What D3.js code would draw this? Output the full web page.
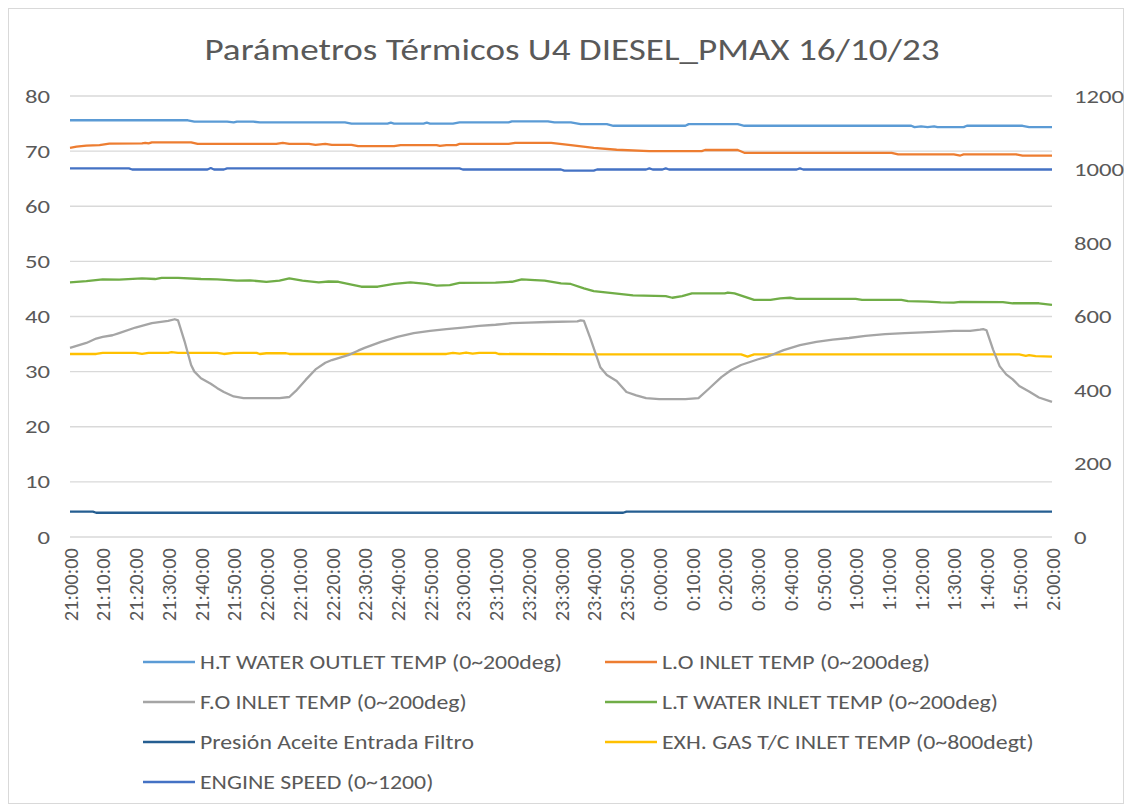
<!DOCTYPE html>
<html>
<head>
<meta charset="utf-8">
<script src="https://cdn.jsdelivr.net/npm/d3@7"></script>
<style>
  body { margin: 0; background: #fff; }
  text { font-family: Calibri, Carlito, "Open Sans", sans-serif; fill: #595959; }
</style>
</head>
<body>
<div id="chart"></div>
<script>
const w = 1132;
const h = 805;

// x labels, one every 10 minutes from 21:00 to 2:00
const tickLabels = [
  "21:00:00", "21:10:00", "21:20:00", "21:30:00", "21:40:00", "21:50:00",
  "22:00:00", "22:10:00", "22:20:00", "22:30:00", "22:40:00", "22:50:00",
  "23:00:00", "23:10:00", "23:20:00", "23:30:00", "23:40:00", "23:50:00",
  "0:00:00", "0:10:00", "0:20:00", "0:30:00", "0:40:00", "0:50:00",
  "1:00:00", "1:10:00", "1:20:00", "1:30:00", "1:40:00", "1:50:00", "2:00:00"
];
const leftTicks = [0, 10, 20, 30, 40, 50, 60, 70, 80];
const rightTicks = [0, 200, 400, 600, 800, 1000, 1200];

// [minutes after 21:00, value]
const htWater = [[0,75.6],[36,75.6],[38,75.35],[48,75.35],[50,75.2],[51,75.35],[56,75.35],[58,75.2],[84,75.2],[86,75.0],[97,75.0],[98,75.15],[99,75.0],[108,75.0],[109,75.15],[110,75.0],[117,75.0],[119,75.2],[134,75.2],[135,75.4],[146,75.4],[148,75.2],[153,75.2],[156,74.9],[164,74.9],[166,74.6],[188,74.6],[189,74.9],[204,74.9],[206,74.6],[257,74.6],[258,74.35],[260,74.5],[262,74.35],[264,74.5],[265,74.35],[273,74.35],[274,74.6],[291,74.6],[293,74.35],[300,74.35]];
const loInlet = [[0,70.6],[2,70.8],[5,71.0],[9,71.1],[12,71.35],[22,71.4],[23,71.5],[24,71.4],[25,71.6],[37,71.6],[39,71.3],[63,71.3],[65,71.5],[67,71.3],[73,71.3],[75,71.15],[78,71.3],[80,71.15],[86,71.15],[88,70.9],[99,70.9],[101,71.1],[112,71.1],[113,70.95],[115,71.1],[118,71.1],[119,71.3],[134,71.3],[136,71.5],[147,71.5],[153,71.1],[160,70.6],[167,70.25],[177,70.0],[193,70.0],[194,70.2],[204,70.2],[206,69.7],[251,69.7],[253,69.4],[270,69.4],[272,69.2],[273,69.4],[289,69.4],[291,69.2],[300,69.2]];
const foInlet = [[0,34.3],[5,35.2],[8,36.0],[10,36.3],[13,36.6],[15,37.0],[20,38.0],[25,38.8],[30,39.2],[32,39.5],[33,39.3],[35,35.5],[37,31.2],[38,30.0],[40,28.8],[43,27.8],[45,27.0],[47,26.3],[50,25.5],[53,25.2],[64,25.2],[67,25.4],[69,26.5],[72,28.5],[75,30.4],[78,31.6],[80,32.1],[85,33.0],[88,33.8],[90,34.3],[95,35.4],[100,36.3],[105,37.0],[110,37.4],[115,37.7],[120,38.0],[125,38.3],[130,38.5],[135,38.8],[140,38.9],[146,39.0],[155,39.1],[156,39.3],[157,39.2],[159,36.0],[162,30.8],[164,29.4],[167,28.3],[170,26.3],[173,25.7],[176,25.2],[180,25.0],[188,25.0],[192,25.2],[195,26.8],[199,29.0],[202,30.3],[205,31.2],[210,32.2],[213,32.7],[218,33.9],[223,34.8],[228,35.4],[233,35.8],[238,36.1],[243,36.5],[249,36.8],[255,37.0],[264,37.2],[270,37.4],[275,37.4],[278,37.6],[279,37.7],[280,37.5],[282,34.0],[284,31.0],[286,29.5],[288,28.6],[290,27.4],[293,26.4],[296,25.3],[300,24.5]];
const ltWater = [[0,46.2],[5,46.4],[10,46.75],[15,46.7],[22,46.9],[26,46.8],[28,47.0],[33,47.0],[40,46.8],[45,46.75],[51,46.5],[55,46.55],[60,46.3],[64,46.5],[67,46.9],[71,46.5],[76,46.2],[79,46.35],[82,46.3],[86,45.8],[89,45.4],[94,45.4],[99,45.9],[104,46.2],[109,45.9],[112,45.6],[116,45.7],[119,46.1],[130,46.15],[135,46.3],[138,46.75],[142,46.6],[145,46.5],[150,46.0],[153,45.9],[157,45.1],[160,44.6],[165,44.3],[172,43.85],[182,43.7],[184,43.4],[187,43.7],[190,44.2],[200,44.2],[201,44.35],[203,44.2],[206,43.6],[209,43.0],[214,43.0],[217,43.3],[220,43.4],[222,43.2],[240,43.2],[242,43.0],[254,43.0],[256,42.8],[262,42.7],[266,42.55],[270,42.5],[272,42.65],[285,42.6],[288,42.4],[296,42.4],[300,42.1]];
const oilPressure = [[0,4.6],[7,4.6],[8,4.4],[169,4.4],[170,4.6],[300,4.6]];
// right axis series
const exhGas = [[0,498],[8,498],[10,501],[20,501],[22,498],[24,501],[30,501],[31,503],[33,501],[45,501],[47,498],[50,501],[57,501],[58,498],[60,500],[66,500],[67,498],[115,498],[117,501],[119,499],[121,502],[123,499],[125,501],[130,501],[131,498],[160,497],[205,497],[207,491],[209,497],[290,497],[292,493],[293,495],[295,492],[300,491]];
const engineSpeed = [[0,1003],[18,1003],[19,1000],[42,1000],[43,1004],[44,1000],[47,1000],[48,1003],[119,1003],[120,1000],[150,1000],[151,997],[160,997],[161,1000],[176,1000],[177,1003],[178,1000],[181,1000],[182,1003],[183,1000],[222,1000],[223,1003],[224,1000],[300,1000]];

const seriesNames = [
  "H.T WATER OUTLET TEMP (0~200deg)", "L.O INLET TEMP (0~200deg)",
  "F.O INLET TEMP (0~200deg)", "L.T WATER INLET TEMP (0~200deg)",
  "Presión Aceite Entrada Filtro", "EXH. GAS T/C INLET TEMP (0~800degt)",
  "ENGINE SPEED (0~1200)"
];
const seriesColors = ["#5B9BD5", "#ED7D31", "#A5A5A5", "#70AD47", "#255E91", "#FFC000", "#4472C4"];
const seriesData = [htWater, loInlet, foInlet, ltWater, oilPressure, exhGas, engineSpeed];
const seriesAxis = ["L", "L", "L", "L", "L", "R", "R"];

// the reference picture is stretched sideways, so widen horizontal text a bit
const widen = (sel, k) => {
  sel.each(function () {
    const len = this.getComputedTextLength();
    d3.select(this).attr("textLength", len * k).attr("lengthAdjust", "spacingAndGlyphs");
  });
};

const svg = d3.select("#chart").append("svg").attr("width", w).attr("height", h);

svg.append("rect")
  .attr("x", 8.5).attr("y", 8.5).attr("width", w - 17).attr("height", h - 10)
  .attr("fill", "#fff").attr("stroke", "#d9d9d9");

const x = d3.scaleLinear().domain([0, 300]).range([70, 1052]);
const yL = d3.scaleLinear().domain([0, 80]).range([537, 96]);
const yR = d3.scaleLinear().domain([0, 1200]).range([537, 96]);

svg.append("text")
  .attr("x", 572).attr("y", 60)
  .attr("text-anchor", "middle")
  .attr("font-size", 30)
  .attr("textLength", 735)
  .attr("lengthAdjust", "spacingAndGlyphs")
  .text("Parámetros Térmicos U4 DIESEL_PMAX 16/10/23");

// gridlines
svg.append("g")
  .selectAll("line")
  .data(leftTicks)
  .enter()
  .append("line")
  .attr("x1", x(0)).attr("x2", x(300))
  .attr("y1", (d) => yL(d)).attr("y2", (d) => yL(d))
  .attr("stroke", "#d9d9d9").attr("stroke-width", 1.3);

const leftAxis = svg.append("g")
  .attr("transform", "translate(" + x(0) + ",0)")
  .call(d3.axisLeft(yL).tickValues(leftTicks).tickSize(0).tickPadding(20));
const rightAxis = svg.append("g")
  .attr("transform", "translate(" + x(300) + ",0)")
  .call(d3.axisRight(yR).tickValues(rightTicks).tickSize(0).tickPadding(22)
    .tickFormat(d3.format("d")));

const xAxis = svg.append("g")
  .attr("transform", "translate(0," + yL(0) + ")")
  .call(d3.axisBottom(x)
    .tickValues(d3.range(0, 301, 10))
    .tickSize(0)
    .tickFormat((d, i) => tickLabels[i]));

[leftAxis, rightAxis, xAxis].forEach((g) => {
  g.select(".domain").remove();
  g.selectAll("text")
    .attr("fill", "#595959")
    .attr("font-size", 19)
    .attr("font-family", 'Calibri, Carlito, "Open Sans", sans-serif');
});

xAxis.selectAll("text")
  .attr("transform", "rotate(-90)")
  .attr("text-anchor", "end")
  .attr("font-size", 20.5)
  .attr("x", -11)
  .attr("y", 0)
  .attr("dy", "0.35em");

widen(leftAxis.selectAll("text"), 1.3);
widen(rightAxis.selectAll("text"), 1.3);

const line = (axis) =>
  d3.line()
    .x((d) => x(d[0]))
    .y((d) => (axis === "R" ? yR(d[1]) : yL(d[1])));

// draw in reverse so the first series sits on top, like Excel
const order = [6, 5, 4, 3, 2, 1, 0];
svg.append("g")
  .selectAll("path")
  .data(order)
  .enter()
  .append("path")
  .attr("d", (i) => line(seriesAxis[i])(seriesData[i]))
  .attr("fill", "none")
  .attr("stroke", (i) => seriesColors[i])
  .attr("stroke-width", 2.3)
  .attr("stroke-linejoin", "round");

// legend, two columns
const legend = svg.append("g")
  .selectAll("g")
  .data(seriesNames)
  .enter()
  .append("g")
  .attr("transform", (d, i) =>
    "translate(" + (i % 2 === 0 ? 143 : 605) + "," + (662 + Math.floor(i / 2) * 40) + ")");

legend.append("line")
  .attr("x1", 0).attr("x2", 52)
  .attr("stroke", (d, i) => seriesColors[i])
  .attr("stroke-width", 2.3);

const legendText = legend.append("text")
  .attr("x", 57)
  .attr("dy", "0.35em")
  .attr("font-size", 19.5)
  .text((d) => d);

widen(legendText, 1.22);
</script>
</body>
</html>
